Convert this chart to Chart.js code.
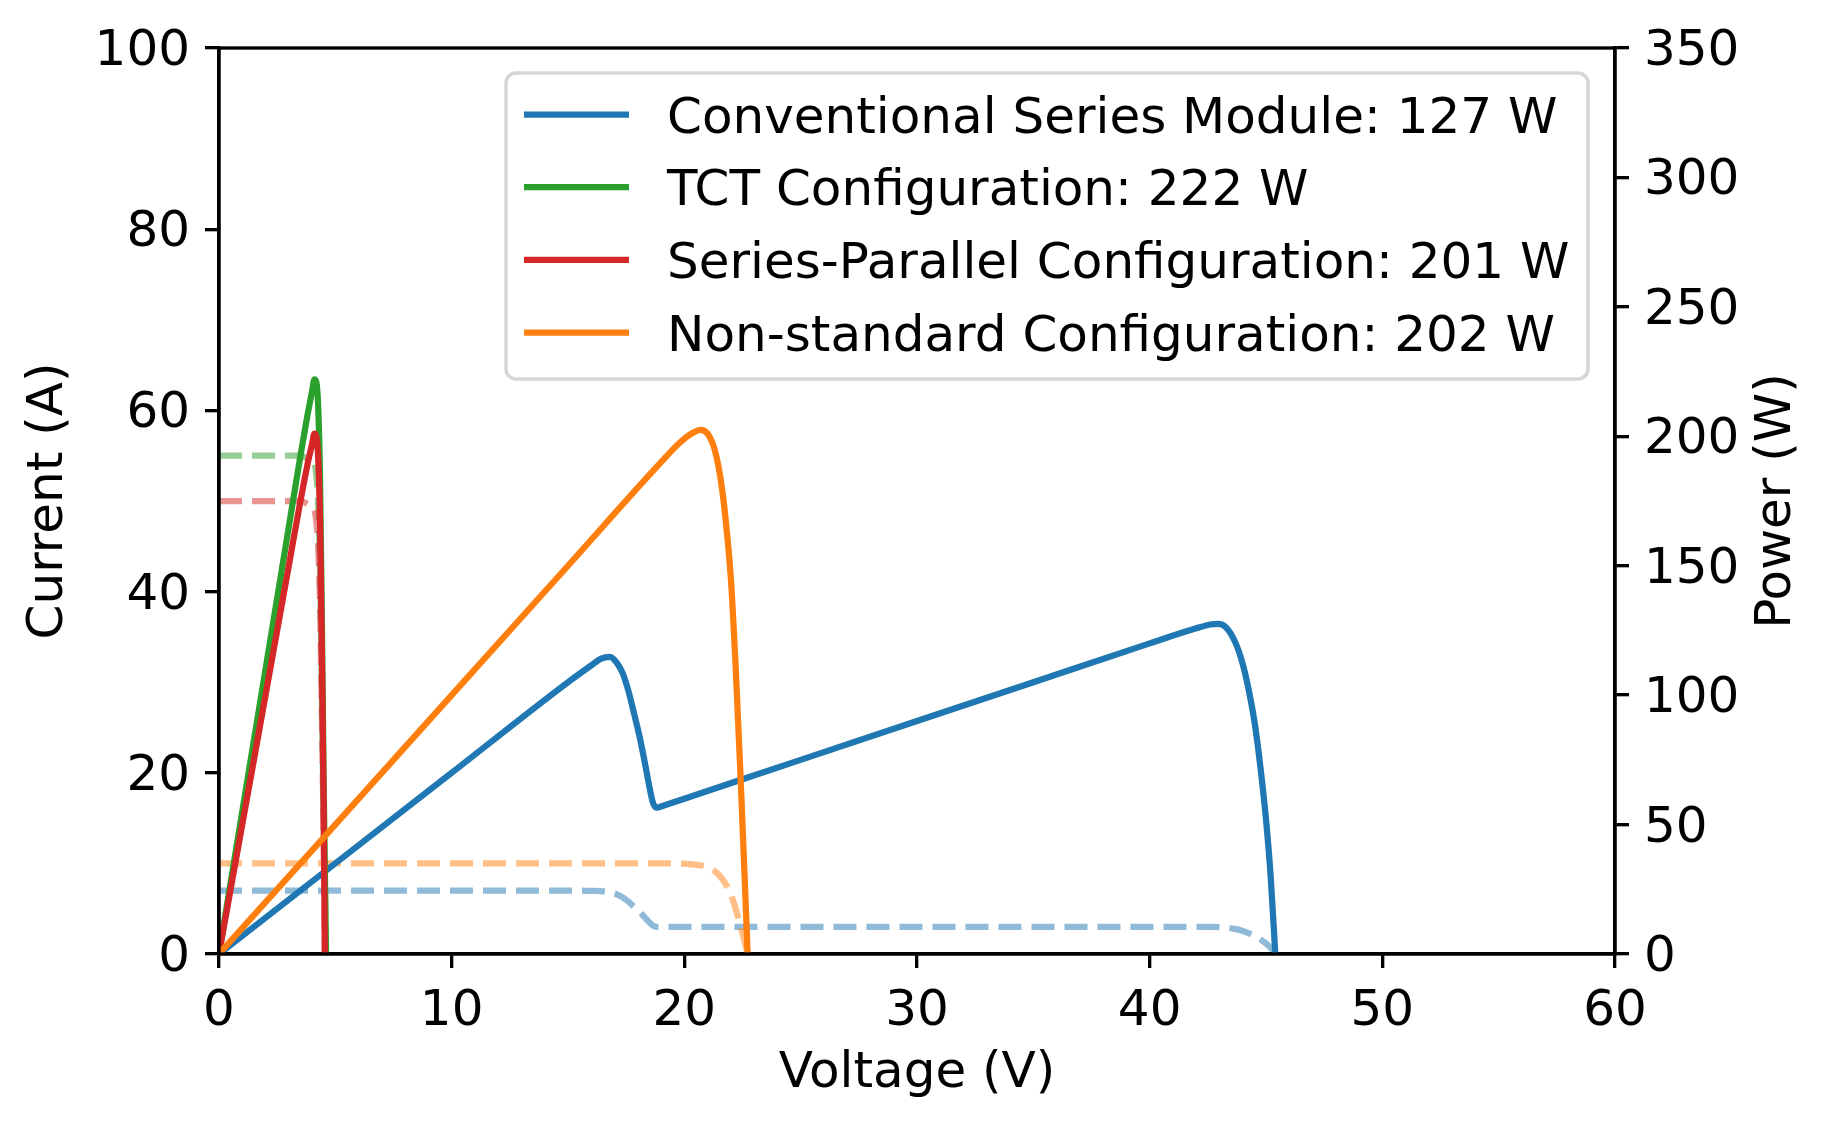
<!DOCTYPE html>
<html><head><meta charset="utf-8">
<script src="https://cdn.jsdelivr.net/npm/chart.js@4.4.1/dist/chart.umd.min.js"></script>
<style>html,body{margin:0;padding:0;background:#fff;overflow:hidden}canvas{display:block}</style>
</head><body>
<canvas id="c" width="1833" height="1126"></canvas>
<script>
// ---- data ----
const seriesLabels = [
  'Conventional Series Module: 127 W',
  'TCT Configuration: 222 W',
  'Series-Parallel Configuration: 201 W',
  'Non-standard Configuration: 202 W'
];
const xTicks = [0, 10, 20, 30, 40, 50, 60];
const currentTicks = [0, 20, 40, 60, 80, 100];
const powerTicks = [0, 50, 100, 150, 200, 250, 300, 350];

// Conventional series module
const convV = [0, 5, 10, 15, 16, 16.4, 16.8, 17.1, 17.35, 17.6, 17.85, 18.1, 18.3, 18.5, 18.65, 18.8, 19.1, 20, 25, 30, 35, 40, 42, 42.6, 42.95, 43.3, 43.7, 44.0, 44.2, 44.5, 44.75, 45.0, 45.2, 45.4];
const convI = [7, 7, 7, 7, 6.97, 6.95, 6.83, 6.58, 6.25, 5.77, 5.18, 4.59, 4.04, 3.49, 3.14, 3.0, 3.0, 3, 3, 3, 3, 3, 3.0, 2.99, 2.97, 2.91, 2.75, 2.55, 2.36, 2.02, 1.63, 1.16, 0.66, 0];
const convP = [0, 35, 70, 105, 111.5, 114, 114.8, 112.5, 108.5, 101.5, 92.5, 83, 74, 64.5, 58.5, 56.5, 57.3, 60, 75, 90, 105, 120, 125.8, 127.3, 127.5, 126, 120, 112, 104.5, 90, 73, 52, 30, 0];

// TCT configuration
const tctV = [0, 1, 2, 3, 3.5, 3.8, 4.0, 4.1, 4.18, 4.26, 4.34, 4.42, 4.5, 4.6];
const tctI = [55, 55, 55, 55, 55, 54.7, 54.4, 54.1, 52.9, 49.8, 42.6, 29.4, 14.4, 0];
const tctP = [0, 55, 110, 165, 192.5, 208, 217.5, 222, 221, 212, 185, 130, 65, 0];

// Series-parallel configuration
const spV = [0, 1, 2, 3, 3.5, 3.8, 4.0, 4.1, 4.18, 4.26, 4.34, 4.42, 4.5, 4.55];
const spI = [50, 50, 50, 50, 50, 49.7, 49.3, 49.0, 47.8, 45.1, 38.7, 26.7, 12.2, 0];
const spP = [0, 50, 100, 150, 175, 189, 197, 201, 200, 192, 168, 118, 55, 0];

// Non-standard configuration
const nsV = [0, 5, 10, 15, 19, 19.8, 20.3, 20.7, 21.0, 21.3, 21.55, 21.75, 22.0, 22.2, 22.4, 22.6, 22.72];
const nsI = [10, 10, 10, 10, 10, 9.97, 9.9, 9.78, 9.57, 9.15, 8.54, 7.82, 6.59, 5.05, 3.21, 1.24, 0];
const nsP = [0, 50, 100, 150, 190, 197.5, 201, 202.5, 201, 195, 184, 170, 145, 112, 72, 28, 0];

// ---- styling ----
const colors = ['#1f77b4', '#2ca02c', '#d62728', '#ff7f0e'];
const fadedColors = ['rgba(31,119,180,0.5)', 'rgba(44,160,44,0.5)', 'rgba(214,39,40,0.5)', 'rgba(255,127,14,0.5)'];
const LW = 6.25, AX = 3.33, FS = 50;
const FONT = "'DejaVu Sans', 'Liberation Sans', sans-serif";

Chart.defaults.font.family = FONT;
Chart.defaults.font.size = FS;
Chart.defaults.color = '#000';

function pts(V, Y) { return V.map((v, i) => ({ x: v, y: Y[i] })); }

function solid(k, V, P, order) {
  return { label: seriesLabels[k], data: pts(V, P), yAxisID: 'y2', borderColor: colors[k],
    backgroundColor: colors[k], borderWidth: LW, pointRadius: 0, fill: false,
    cubicInterpolationMode: 'monotone', borderJoinStyle: 'round', borderCapStyle: 'butt', order: order, legendIndex: k };
}
function dashed(k, V, I, order) {
  return { label: '', data: pts(V, I), yAxisID: 'y', borderColor: fadedColors[k],
    borderWidth: LW, borderDash: [23, 10], pointRadius: 0, fill: false,
    cubicInterpolationMode: 'monotone', borderJoinStyle: 'round', order: order };
}

const datasets = [
  solid(0, convV, convP, 3),
  solid(1, tctV, tctP, 2),
  solid(2, spV, spP, 1),
  solid(3, nsV, nsP, 0),
  dashed(0, convV, convI, 13),
  dashed(1, tctV, tctI, 12),
  dashed(2, spV, spI, 11),
  dashed(3, nsV, nsI, 10)
];

const PLOT = { left: 219, right: 1615, top: 48, bottom: 954 };

const frameAndLegend = {
  id: 'frameAndLegend',
  afterDatasetsDraw(chart) {
    const ctx = chart.ctx, a = chart.chartArea;
    ctx.save();
    ctx.strokeStyle = '#000';
    ctx.lineWidth = AX;
    ctx.strokeRect(a.left, a.top, a.right - a.left, a.bottom - a.top);
    ctx.restore();
  },
  afterDraw(chart) {
    const ctx = chart.ctx;
    // legend box
    const bx = 506, by = 73, bw = 1082, bh = 306, r = 10;
    ctx.save();
    ctx.beginPath();
    ctx.moveTo(bx + r, by);
    ctx.arcTo(bx + bw, by, bx + bw, by + bh, r);
    ctx.arcTo(bx + bw, by + bh, bx, by + bh, r);
    ctx.arcTo(bx, by + bh, bx, by, r);
    ctx.arcTo(bx, by, bx + bw, by, r);
    ctx.closePath();
    ctx.fillStyle = 'rgba(255,255,255,0.8)';
    ctx.fill();
    ctx.strokeStyle = '#d6d6d6';
    ctx.lineWidth = 3.5;
    ctx.stroke();
    const rows = chart.data.datasets.filter(d => d.legendIndex !== undefined)
      .sort((p, q) => p.legendIndex - q.legendIndex);
    ctx.font = FS + 'px ' + FONT;
    ctx.textAlign = 'left';
    ctx.textBaseline = 'alphabetic';
    rows.forEach((d, i) => {
      const y = 114.5 + i * 72.7;
      ctx.beginPath();
      ctx.moveTo(524, y);
      ctx.lineTo(629, y);
      ctx.strokeStyle = d.borderColor;
      ctx.lineWidth = LW;
      ctx.stroke();
      ctx.fillStyle = '#000';
      ctx.fillText(d.label, 667, y + 18.2);
    });
    // right axis title (reads bottom-to-top as in the reference)
    ctx.translate(1777, (PLOT.top + PLOT.bottom) / 2);
    ctx.rotate(-Math.PI / 2);
    ctx.textAlign = 'center';
    ctx.textBaseline = 'middle';
    ctx.fillText('Power (W)', 0, 0);
    ctx.restore();
  }
};

function axisCommon() {
  return {
    grid: { display: true, drawOnChartArea: false, drawTicks: true, tickLength: 14,
      tickWidth: AX, tickColor: '#000', color: '#000', lineWidth: AX },
    border: { display: true, color: '#000', width: AX }
  };
}

new Chart(document.getElementById('c'), {
  type: 'line',
  data: { datasets: datasets },
  options: {
    responsive: false, maintainAspectRatio: false, animation: false,
    devicePixelRatio: 1,
    layout: { padding: { top: PLOT.top, left: 0, right: 0, bottom: 0 } },
    plugins: { legend: { display: false }, tooltip: { enabled: false } },
    scales: {
      x: Object.assign(axisCommon(), {
        type: 'linear', min: xTicks[0], max: xTicks[xTicks.length - 1],
        afterBuildTicks: s => { s.ticks = xTicks.map(v => ({ value: v })); },
        ticks: { padding: 14, font: { size: FS }, maxRotation: 0, autoSkip: false },
        title: { display: true, text: 'Voltage (V)', font: { size: FS }, padding: { top: 0, bottom: 22 } },
        afterFit: s => { s.height = 1126 - PLOT.bottom; }
      }),
      y: Object.assign(axisCommon(), {
        type: 'linear', position: 'left', min: currentTicks[0], max: currentTicks[currentTicks.length - 1],
        afterBuildTicks: s => { s.ticks = currentTicks.map(v => ({ value: v })); },
        ticks: { padding: 15, font: { size: FS }, autoSkip: false, labelOffset: 4 },
        title: { display: true, text: 'Current (A)', font: { size: FS }, padding: { top: 19, bottom: 0 } },
        afterFit: s => { s.width = PLOT.left; }
      }),
      y2: Object.assign(axisCommon(), {
        type: 'linear', position: 'right', min: powerTicks[0], max: powerTicks[powerTicks.length - 1],
        afterBuildTicks: s => { s.ticks = powerTicks.map(v => ({ value: v })); },
        ticks: { padding: 15, font: { size: FS }, autoSkip: false, labelOffset: 4 },
        afterFit: s => { s.width = 1833 - PLOT.right; }
      })
    }
  },
  plugins: [frameAndLegend]
});
</script>
</body></html>
